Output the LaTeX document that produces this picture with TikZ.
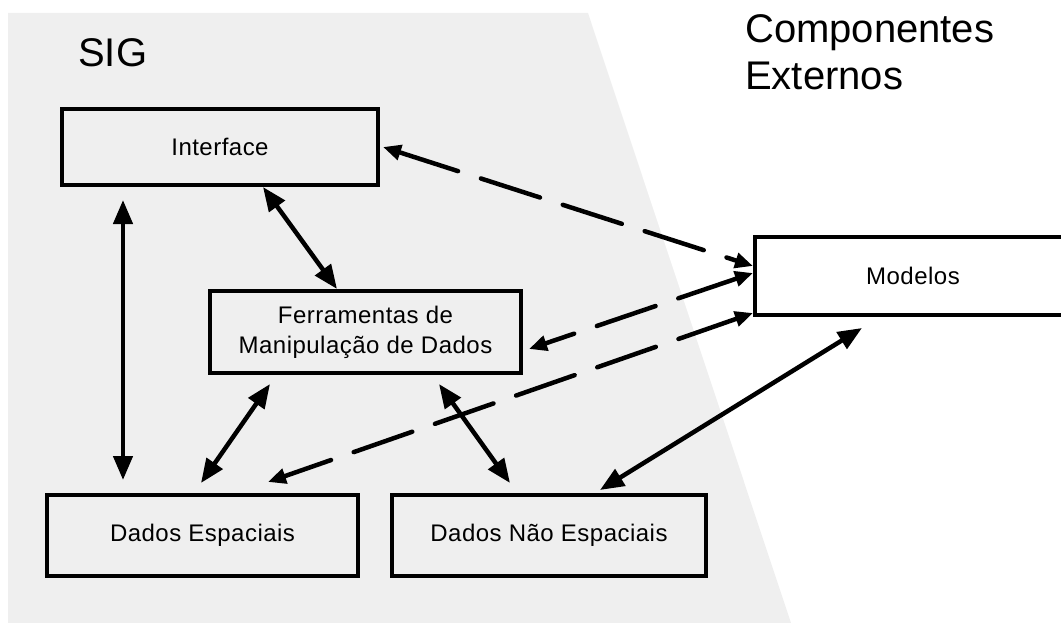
\documentclass[tikz,border=0pt]{standalone}
\usepackage{fontspec}
\setmainfont{Liberation Sans}
\usetikzlibrary{arrows.meta,calc}
\definecolor{sigbg}{RGB}{239,239,239}
\tikzset{
  box/.style={draw, line width=4pt, rectangle, inner sep=0pt,
    font=\fontsize{24pt}{30pt}\selectfont\addfontfeature{LetterSpace=2}, align=center},
  title/.style={anchor=base west, inner sep=0pt, font=\fontsize{40pt}{47pt}\selectfont},
  link/.style={line width=4.5pt, {Triangle[length=24pt,width=19pt]}-{Triangle[length=24pt,width=19pt]}},
  extlink/.style={line width=4.5pt, line cap=round, dash pattern=on 62pt off 24pt,
    {Triangle[length=18pt,width=15pt]}-{Triangle[length=18pt,width=15pt]}}
}
\begin{document}
\begin{tikzpicture}[x=1pt,y=-1pt]
  \path[use as bounding box] (0,0) rectangle (1061,623);
  % GIS region
  \fill[sigbg] (8,13) -- (588,13) -- (791,623) -- (8,623) -- cycle;

  \node[title] (sig) at (78,67) {SIG};
  \node[title] (ext1) at (745,43) {Componentes};
  \node[title] (ext2) at (745,90) {Externos};

  % components
  \node[box, minimum width=316pt, minimum height=76pt] (iface) at (220,147) {Interface};
  \node[box, minimum width=311pt, minimum height=82pt] (tools) at (365.5,332)
    {Ferramentas de\\Manipulação de Dados};
  \node[box, minimum width=311pt, minimum height=81pt] (spat) at (202.5,535.5) {Dados Espaciais};
  \node[box, minimum width=314pt, minimum height=81pt] (nspat) at (549,535.5) {Dados Não Espaciais};
  \node[box, minimum width=316pt, minimum height=78pt] (model) at (913,276) {Modelos};

  % internal links
  \draw[link] ($(iface.south)+(-97,13)$) -- ($(spat.north)+(-79.5,-13)$);
  \draw[link] ($(iface.south)+(43,0)$) -- ($(tools.north)+(-28.5,0)$);
  \draw[link] ($(tools.south)+(-95.5,9)$) -- ($(spat.north)+(-1.5,-10)$);
  \draw[link] ($(tools.south)+(73.5,9)$) -- ($(nspat.north)+(-39,-10)$);
  \draw[link] ($(model.south)+(-51,11)$) -- ($(nspat.north)+(51,-3)$);

  % links to external models
  \draw[extlink] ($(iface.east)+(3,0)$) -- ($(model.west)+(0,-10)$);
  \draw[extlink] ($(model.west)+(0,-3)$) -- ($(tools.east)+(6,17)$);
  \draw[extlink] ($(model.west)+(0,37)$) -- ($(spat.north)+(65.5,-11)$);
\end{tikzpicture}
\end{document}
